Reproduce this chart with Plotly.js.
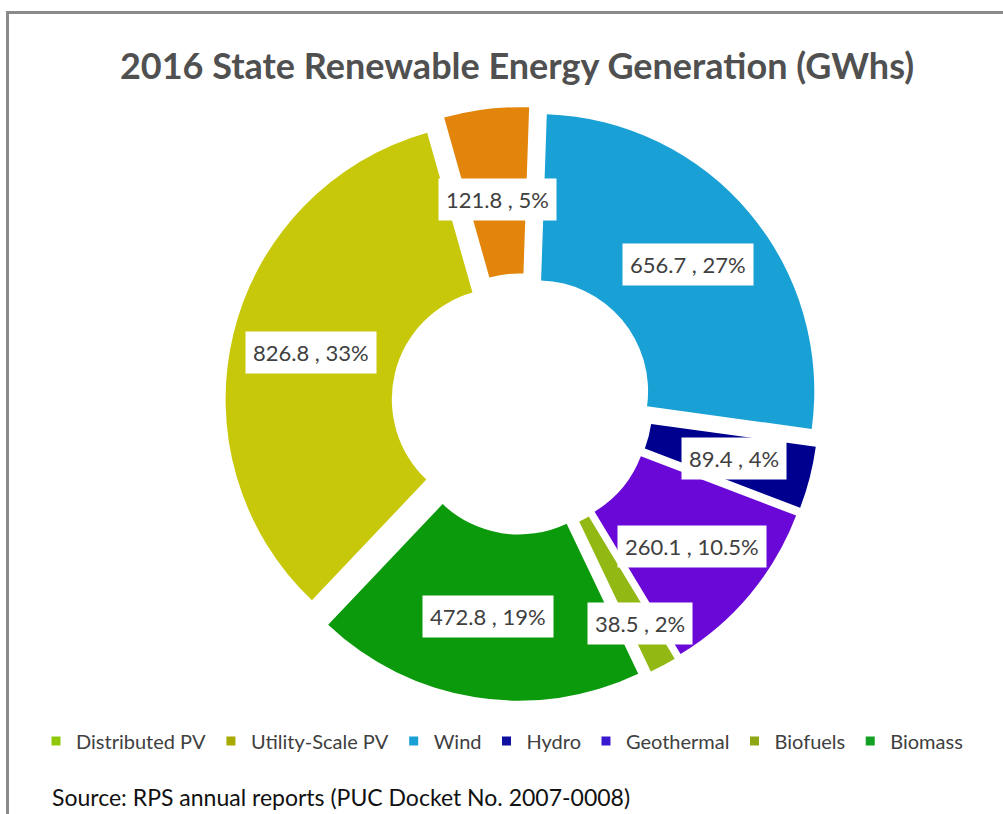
<!DOCTYPE html>
<html>
<head>
<meta charset="utf-8">
<script src="https://cdn.plot.ly/plotly-3.0.1.min.js"></script>
<style>
  html, body { margin: 0; padding: 0; background: #ffffff; }
  #wrap { position: relative; width: 1003px; height: 814px; overflow: hidden; }
  #chart { width: 1003px; height: 814px; }
  #frame { position: absolute; left: 6px; top: 11px; width: 1200px; height: 1000px;
           border-left: 3px solid #8a8a8a; border-top: 3px solid #8a8a8a; pointer-events: none; }
</style>
</head>
<body>
<div id="wrap">
  <div id="chart"></div>
  <div id="frame"></div>
</div>
<script>
// ---- data ----
const categories = ['Distributed PV', 'Utility-Scale PV', 'Wind', 'Hydro', 'Geothermal', 'Biofuels', 'Biomass'];
const values = [826.8, 121.8, 656.7, 89.4, 260.1, 38.5, 472.8];
const pctLabels = ['33%', '5%', '27%', '4%', '10.5%', '2%', '19%'];

// ---- styles ----
const sliceColors = ['#c8c80a', '#e2850a', '#19a0d4', '#00008e', '#6a08d8', '#92b814', '#0a9a0c'];
const legendColors = ['#92c80a', '#a8aa00', '#19a0d4', '#1010a0', '#3a18d0', '#8ca814', '#12a022'];
const labelRadius = [217, 206, 217, 219, 222, 249, 215]; // px from centre, label placement
const FONT = 'Lato, "Open Sans", sans-serif';
const W = 1003, H = 814;
const cx = 522, cy = 404, boxHalf = 297;
const rotation = -136.5;
const pull = 0.072;

const total = values.reduce((a, b) => a + b, 0);
let cum = 0;
const annotations = [];
values.forEach((v, i) => {
  const mid = rotation + (cum + v / 2) / total * 360;
  cum += v;
  const a = mid * Math.PI / 180;
  const px = cx + labelRadius[i] * Math.sin(a);
  const py = cy - labelRadius[i] * Math.cos(a);
  annotations.push({
    x: px / W, y: 1 - py / H, xref: 'paper', yref: 'paper',
    xanchor: 'center', yanchor: 'middle',
    text: v.toFixed(1) + ' , ' + pctLabels[i],
    showarrow: false, bgcolor: '#ffffff', borderpad: 7,
    font: { family: FONT, size: 22, color: '#404040' }
  });
});
annotations.push({
  x: 50 / W, y: 1 - 797 / H, xref: 'paper', yref: 'paper', xanchor: 'left', yanchor: 'middle',
  text: 'Source: RPS annual reports (PUC Docket No. 2007-0008)', showarrow: false,
  font: { family: FONT, size: 23, color: '#111111' }
});

const pie = {
  type: 'pie',
  labels: categories,
  values: values,
  sort: false,
  direction: 'clockwise',
  rotation: rotation,
  hole: 0.40,
  pull: values.map(() => pull),
  textinfo: 'none',
  showlegend: false,
  marker: { colors: sliceColors, line: { width: 0 } },
  domain: { x: [(cx - boxHalf) / W, (cx + boxHalf) / W], y: [(H - cy - boxHalf) / H, (H - cy + boxHalf) / H] }
};

const legendTraces = categories.map((c, i) => ({
  type: 'scatter', mode: 'markers', x: [null], y: [null], name: c,
  marker: { symbol: 'square', size: 9, color: legendColors[i] },
  showlegend: true, hoverinfo: 'skip'
}));

const layout = {
  width: W, height: H,
  margin: { l: 0, r: 0, t: 0, b: 0 },
  paper_bgcolor: '#ffffff', plot_bgcolor: 'rgba(0,0,0,0)',
  title: {
    text: '<b>2016 State Renewable Energy Generation (GWhs)</b>',
    x: 517 / W, xanchor: 'center', y: 1 - 66 / H, yanchor: 'middle', yref: 'container',
    font: { family: FONT, size: 36, color: '#505050' }
  },
  xaxis: { visible: false }, yaxis: { visible: false },
  legend: {
    orientation: 'h', x: 36 / W, xanchor: 'left', y: 1 - 741 / H, yanchor: 'middle',
    font: { family: FONT, size: 20, color: '#404040' },
    itemwidth: 30, bgcolor: 'rgba(0,0,0,0)', traceorder: 'normal'
  },
  annotations: annotations
};

Plotly.newPlot('chart', [pie].concat(legendTraces), layout, { displayModeBar: false, staticPlot: true });
</script>
</body>
</html>
